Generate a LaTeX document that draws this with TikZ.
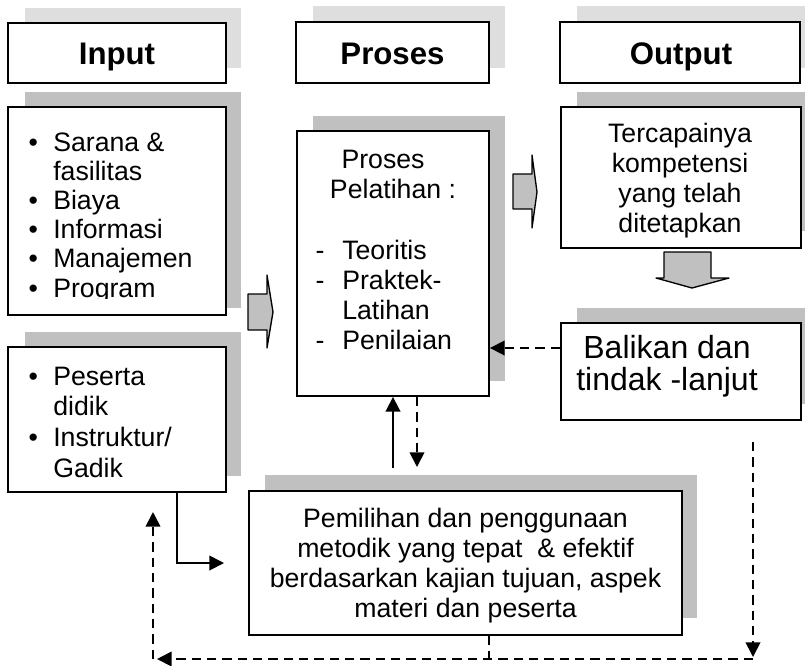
\documentclass[tikz,border=0pt]{standalone}
\usepackage{fontspec}
\setmainfont{Liberation Sans}
\usetikzlibrary{arrows.meta}
\definecolor{shadelight}{HTML}{DEDEDE}
\definecolor{shadedark}{HTML}{C0C0C0}

\begin{document}
\begin{tikzpicture}[x=0.75pt,y=-0.75pt,
  box/.style={draw, line width=1.4pt, fill=white, inner sep=0pt},
  label/.style={inner sep=0pt, font=\fontsize{20}{22.5}\selectfont},
  headtext/.style={inner sep=0pt, anchor=base, font=\fontsize{23.4}{26}\selectfont\bfseries},
  blockarrow/.style={fill=shadedark, draw, line width=1pt, line join=round},
  tip/.style={-{Triangle[length=11pt,width=11pt]}},
  sline/.style={line width=1.4pt},
  dline/.style={line width=1.3pt, dash pattern=on 7pt off 4.5pt}]

\useasboundingbox (0,0) rectangle (805,665);
\fill[white] (0,0) rectangle (805,665);

% shadows behind the frames
\fill[shadelight] (25,8) rectangle (241,68);
\fill[shadelight] (313,6) rectangle (505,68);
\fill[shadelight] (577,6) rectangle (805,68);
\fill[shadedark] (25,92) rectangle (241,308);
\fill[shadedark] (25,332) rectangle (241,476);
\fill[shadedark] (313,116) rectangle (505,381);
\fill[shadedark] (577,92) rectangle (805,231);
\fill[shadedark] (577,308) rectangle (805,404);
\fill[shadedark] (265,475) rectangle (697,618);

% frames
\node[box, minimum width=163.5pt, minimum height=45pt] (hIn) at (117,53) {};
\node[box, minimum width=144.75pt, minimum height=45.75pt] (hPr) at (392.5,52.5) {};
\node[box, minimum width=180pt, minimum height=45.75pt] (hOut) at (680,52.5) {};
\node[box, minimum width=163.5pt, minimum height=156pt] (inList) at (117,211) {};
\node[box, minimum width=163.5pt, minimum height=108.75pt] (inPeople) at (117,419.5) {};
\node[box, minimum width=144pt, minimum height=198.75pt] (proc) at (393,263.5) {};
\node[box, minimum width=180pt, minimum height=105.75pt] (outBox) at (681,177.5) {};
\node[box, minimum width=180pt, minimum height=72.75pt] (fb) at (681,371.5) {};
\node[box, minimum width=324.75pt, minimum height=108pt] (method) at (465.5,563) {};

% headings
\node[headtext] (tIn) at (117,64) {Input};
\node[headtext] (tPr) at (392.5,64) {Proses};
\node[headtext] (tOut) at (681,64) {Output};

% input list, cut off at the bottom of its text frame
\begin{scope}
  \clip (0,90) rectangle (240,298);
  \node[label, anchor=base west, font=\fontsize{20}{21.9}\selectfont] (tInList) at (53,151)
    {\begin{tabular}[t]{@{}l@{}}
      \llap{\textbullet\hspace{11.5pt}}Sarana \&\\
      fasilitas\\
      \llap{\textbullet\hspace{11.5pt}}Biaya\\
      \llap{\textbullet\hspace{11.5pt}}Informasi\\
      \llap{\textbullet\hspace{11.5pt}}Manajemen\\
      \llap{\textbullet\hspace{11.5pt}}Program
    \end{tabular}};
\end{scope}

\node[label, anchor=base west, font=\fontsize{20}{23}\selectfont] (tPeople) at (53,385)
  {\begin{tabular}[t]{@{}l@{}}
    \llap{\textbullet\hspace{11.5pt}}Peserta\\
    didik\\
    \llap{\textbullet\hspace{11.5pt}}Instruktur/\\
    Gadik
  \end{tabular}};

\node[label, anchor=base] (tProcHead) at (393,168)
  {\begin{tabular}[t]{@{}c@{}}
    Proses\hspace*{15pt}\\
    Pelatihan :
  \end{tabular}};

\node[label, anchor=base west, font=\fontsize{20}{22.7}\selectfont] (tProcList) at (342,259)
  {\begin{tabular}[t]{@{}l@{}}
    \llap{-\hspace{13.3pt}}Teoritis\\
    \llap{-\hspace{13.3pt}}Praktek-\\
    Latihan\\
    \llap{-\hspace{13.3pt}}Penilaian
  \end{tabular}};

\node[label, anchor=base] (tOutText) at (680,142)
  {\begin{tabular}[t]{@{}c@{}}
    Tercapainya\\
    kompetensi\\
    yang telah\\
    ditetapkan
  \end{tabular}};

\node[label, anchor=base, font=\fontsize{24}{22.5}\selectfont] (tFb) at (667,358)
  {\begin{tabular}[t]{@{}c@{}}
    Balikan dan\\
    tindak -lanjut
  \end{tabular}};

\node[label, anchor=base] (tMethod) at (465.5,527)
  {\begin{tabular}[t]{@{}c@{}}
    Pemilihan dan penggunaan\\
    metodik yang tepat\ \ \& efektif\\
    berdasarkan kajian tujuan, aspek\\
    materi dan peserta
  \end{tabular}};

% block arrows
\draw[blockarrow] (248,294) -- (267,294) -- (267,275) -- (273,312) -- (267,348) -- (267,330) -- (248,330) -- cycle;
\draw[blockarrow] (513,174) -- (532,174) -- (532,155) -- (537,192) -- (532,228) -- (532,209) -- (513,209) -- cycle;
\draw[blockarrow] (664,252) -- (711,252) -- (711,278) -- (729,278) -- (692,288) -- (656,278) -- (664,278) -- cycle;

% connectors
\coordinate (yfb) at (0,348);
\draw[dline, tip] (fb.west |- yfb) -- (proc.east |- yfb);

\coordinate (upS) at (393,468);
\draw[sline, tip] (upS) -- (upS |- proc.south);

\coordinate (dnE) at (417,467);
\draw[dline, tip] (dnE |- proc.south) -- (dnE);

\coordinate (pTurn) at (177,563);
\coordinate (pEnd) at (224,563);
\draw[sline, tip] (pTurn |- inPeople.south) -- (pTurn) -- (pEnd);

\coordinate (rTop) at (753,442);
\coordinate (rBot) at (753,657);
\draw[dline, tip] (rTop) -- (rBot);

\coordinate (bR) at (753,659);
\coordinate (bL) at (157,659);
\draw[dline, tip] (bR) -- (bL);

\coordinate (lB) at (153,659);
\coordinate (lT) at (153,512);
\draw[dline, tip] (lB) -- (lT);

\coordinate (tick) at (489,659);
\draw[dline] (tick |- method.south) -- (tick);

\end{tikzpicture}
\end{document}
